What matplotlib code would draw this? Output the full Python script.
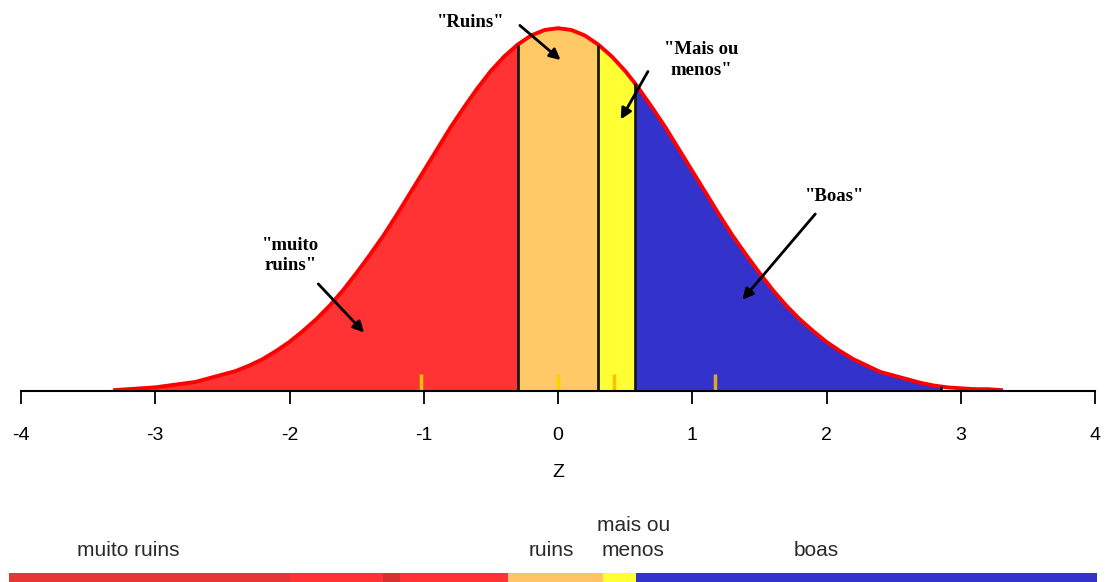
import numpy as np
import matplotlib.pyplot as plt

plt.rcParams['font.family'] = ['Liberation Sans', 'DejaVu Sans']
plt.rcParams['axes.unicode_minus'] = False

# standard normal curve, read at these z values
z = np.array([-3.3, -3.2, -3.1, -3.0, -2.9, -2.8, -2.7, -2.6, -2.5, -2.4, -2.3, -2.2,
              -2.1, -2.0, -1.9, -1.8, -1.7, -1.6, -1.5, -1.4, -1.3, -1.2, -1.1, -1.0,
              -0.9, -0.8, -0.7, -0.6, -0.5, -0.4, -0.3, -0.2, -0.1, 0.0, 0.1, 0.2,
              0.3, 0.4, 0.5, 0.57, 0.6, 0.7, 0.8, 0.9, 1.0, 1.1, 1.2, 1.3,
              1.4, 1.5, 1.6, 1.7, 1.8, 1.9, 2.0, 2.1, 2.2, 2.3, 2.4, 2.5,
              2.6, 2.7, 2.8, 2.85, 2.9, 3.0, 3.1, 3.2, 3.3])
dens = np.array([0.001, 0.002, 0.003, 0.004, 0.006, 0.008, 0.010, 0.014, 0.018, 0.022, 0.028, 0.035,
                 0.044, 0.054, 0.066, 0.079, 0.094, 0.111, 0.130, 0.150, 0.171, 0.194, 0.218, 0.242,
                 0.266, 0.290, 0.312, 0.333, 0.352, 0.368, 0.381, 0.391, 0.397, 0.399, 0.397, 0.391,
                 0.381, 0.368, 0.352, 0.339, 0.333, 0.312, 0.290, 0.266, 0.242, 0.218, 0.194, 0.171,
                 0.150, 0.130, 0.111, 0.094, 0.079, 0.066, 0.054, 0.044, 0.035, 0.028, 0.021, 0.017,
                 0.013, 0.009, 0.006, 0.005, 0.004, 0.003, 0.002, 0.002, 0.001])

# class limits on z and their colours
limits = [-3.3, -0.3, 0.3, 0.57, 2.85]
region_colors = ['#FF3333', '#FFC966', '#FFFF33', '#3333CC']
region_names = ['"muito\nruins"', '"Ruins"', '"Mais ou\nmenos"', '"Boas"']

# little markers on the axis
marks = [-1.02, 0.0, 0.42, 1.17]
mark_colors = ['#FFC000', '#FFD000', '#FFC000', '#E0A830']

# colour strip under the chart (edges on the z scale)
strip_edges = [-4.09, -2.0, -1.3, -1.18, -0.37, 0.335, 0.58, 4.015]
strip_colors = ['#E53535', '#FF3333', '#D63030', '#FF3333', '#FFC466', '#FFFF33', '#3333CC']
strip_labels = ['muito ruins', 'ruins', 'mais ou\nmenos', 'boas']
strip_label_x = [-3.2, -0.05, 0.56, 1.92]

W, H = 1110, 582
fig = plt.figure(figsize=(W / 100, H / 100), dpi=100)
ax = fig.add_axes([21 / W, (H - 391) / H, 1074 / W, 371 / H])

for lo, hi, c in zip(limits[:-1], limits[1:], region_colors):
    sel = (z >= lo) & (z <= hi)
    ax.fill_between(z[sel], 0, dens[sel], color=c, lw=0)

ax.plot(z, dens, color='#FF0000', lw=2.8, solid_joinstyle='round')

inner = limits[1:]
tops = [dens[list(z).index(b)] for b in inner]
ax.vlines(inner, 0, tops, colors='#1a1a1a', lw=2)

ax.vlines(marks, 0, 0.019, colors=mark_colors, lw=2.5)

# labels with arrows
lab_pos = [(-1.99, 0.149), (-0.65, 0.405), (1.065, 0.364), (2.06, 0.214)]
arr_tail = [(-1.80, 0.120), (-0.30, 0.404), (0.68, 0.354), (1.93, 0.197)]
arr_head = [(-1.43, 0.062), (0.035, 0.362), (0.457, 0.296), (1.36, 0.098)]
for name, p, t, h in zip(region_names, lab_pos, arr_tail, arr_head):
    ax.text(p[0], p[1], name, ha='center', va='center', fontsize=13.5,
            fontweight='bold', family='Liberation Serif', linespacing=1.3)
    ax.annotate('', xy=h, xytext=t,
                arrowprops=dict(arrowstyle='-|>', color='black', lw=2, mutation_scale=16))

ax.set_xlim(-4, 4)
ax.set_ylim(0, 0.408)
for s in ['left', 'right', 'top']:
    ax.spines[s].set_visible(False)
ax.spines['bottom'].set_linewidth(1.5)
ax.set_yticks([])
ax.set_xticks(range(-4, 5))
ax.tick_params(axis='x', direction='out', length=9, width=1.3, pad=17, labelsize=14)
ax.set_xlabel('Z', fontsize=14, labelpad=14)

# colour strip
bx = fig.add_axes([21 / W, 0, 1074 / W, 82 / H])
bx.set_xlim(-4, 4)
bx.set_ylim(0, 82)
bx.axis('off')
for lo, hi, c in zip(strip_edges[:-1], strip_edges[1:], strip_colors):
    bx.fill_between([lo, hi], 0, 9, color=c, lw=0, clip_on=False)
for x, t in zip(strip_label_x, strip_labels):
    yc = 44 if '\n' in t else 31
    bx.text(x, yc, t, ha='center', va='center', fontsize=15, color='#2a2a2a',
            linespacing=1.4, clip_on=False)

fig.savefig('out.png', dpi=100)
